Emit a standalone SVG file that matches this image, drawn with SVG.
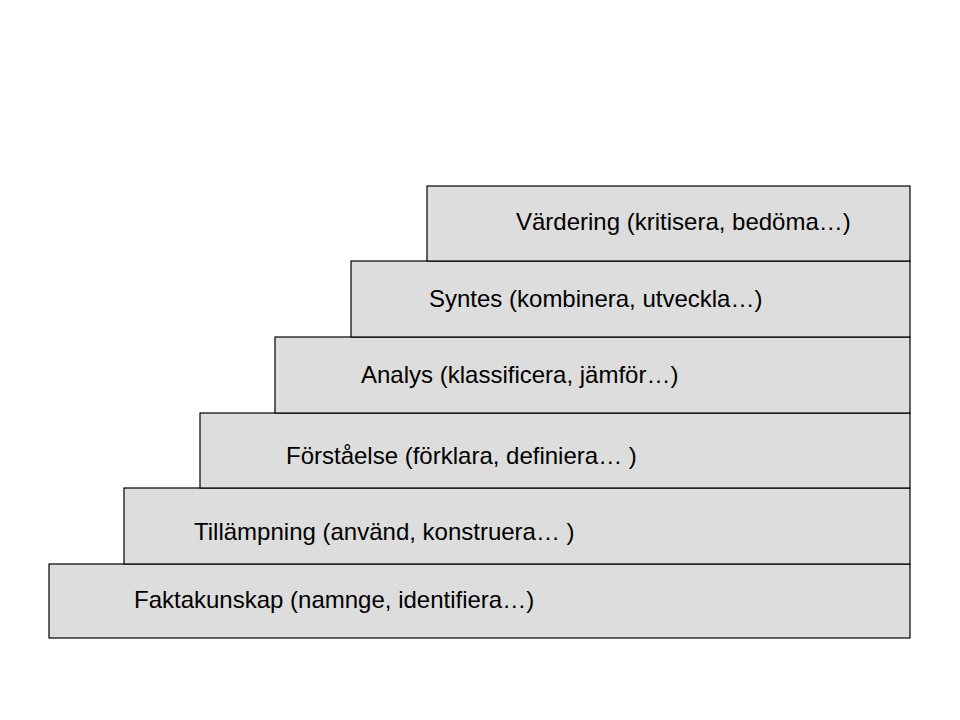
<svg xmlns="http://www.w3.org/2000/svg" width="960" height="720" viewBox="0 0 960 720">
<style>
.step{fill:#dddddd;stroke:#000;stroke-width:1.2}
.lbl{font-family:"Liberation Sans",Arial,sans-serif;font-size:24px;fill:#000}
</style>
<rect width="960" height="720" fill="#fff"/>
<g id="faktakunskap"><rect class="step" x="49" y="564" width="861" height="74"/><text class="lbl" x="134" y="608">Faktakunskap (namnge, identifiera…)</text></g>
<g id="tillampning"><rect class="step" x="124" y="488" width="786" height="76"/><text class="lbl" x="194" y="540">Tillämpning (använd, konstruera… )</text></g>
<g id="forstaelse"><rect class="step" x="200" y="413" width="710" height="75"/><text class="lbl" x="286" y="464">Förståelse (förklara, definiera… )</text></g>
<g id="analys"><rect class="step" x="275" y="337" width="635" height="76"/><text class="lbl" x="361" y="383">Analys (klassificera, jämför…)</text></g>
<g id="syntes"><rect class="step" x="351" y="261" width="559" height="76"/><text class="lbl" x="429" y="307">Syntes (kombinera, utveckla…)</text></g>
<g id="vardering"><rect class="step" x="427" y="186" width="483" height="75"/><text class="lbl" x="516" y="230">Värdering (kritisera, bedöma…)</text></g>
<g id="connectors"/>
</svg>
